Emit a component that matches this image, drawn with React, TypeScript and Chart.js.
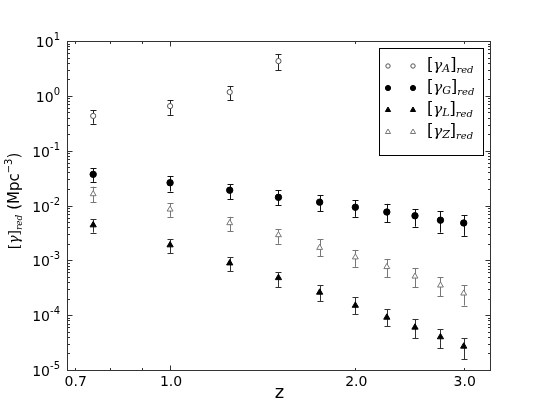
import React, { useEffect, useRef } from "react";
import { Chart, registerables } from "chart.js";

Chart.register(...registerables);

const zA = [0.75, 1.0, 1.25, 1.5];
const zAll = [0.75, 1.0, 1.25, 1.5, 1.75, 2.0, 2.25, 2.5, 2.75, 3.0];

const gammaA = [0.43, 0.65, 1.17, 4.3];
const gammaALo = [0.31, 0.45, 0.84, 2.95];
const gammaAHi = [0.55, 0.84, 1.5, 5.8];

const gammaG = [0.037, 0.026, 0.019, 0.0141, 0.0115, 0.0093, 0.0076, 0.0065, 0.0054, 0.0048];
const gammaGLo = [0.027, 0.018, 0.013, 0.0102, 0.0079, 0.0062, 0.005, 0.0041, 0.0032, 0.0028];
const gammaGHi = [0.048, 0.034, 0.0245, 0.019, 0.0155, 0.0125, 0.0107, 0.0085, 0.0079, 0.0067];

const gammaL = [0.0044, 0.0019, 0.00089, 0.00048, 0.00026, 0.00015, 0.000091, 0.00006, 0.00004, 0.000027];
const gammaLLo = [0.0032, 0.00135, 0.00063, 0.00032, 0.00018, 0.000105, 0.000063, 0.000038, 0.000025, 0.0000158];
const gammaLHi = [0.0056, 0.0024, 0.00114, 0.0006, 0.00035, 0.00021, 0.000129, 0.000085, 0.000055, 0.000038];

const gammaZ = [0.0162, 0.0085, 0.0048, 0.0029, 0.0017, 0.00114, 0.00076, 0.00051, 0.00035, 0.00025];
const gammaZLo = [0.0115, 0.0062, 0.0034, 0.002, 0.0012, 0.00076, 0.00049, 0.00032, 0.00022, 0.00015];
const gammaZHi = [0.022, 0.011, 0.0062, 0.0037, 0.0024, 0.00155, 0.00105, 0.00072, 0.00049, 0.00035];

const xTickValues = [0.7, 1.0, 2.0, 3.0];
const xTickLabels = ["0.7", "1.0", "2.0", "3.0"];
const xMinorTicks = [0.7, 0.8, 0.9, 2, 3];
const xMajorTicks = [1];
const yExponents = [1, 0, -1, -2, -3, -4, -5];
const legendSubs = ["A", "G", "L", "Z"];

const SANS = '"DejaVu Sans", sans-serif';
const SERIF = '"DejaVu Serif", "Liberation Serif", serif';

function drawMarker(ctx: CanvasRenderingContext2D, style: string, x: number, y: number, r: number, fill: string, stroke: string) {
  ctx.save();
  ctx.beginPath();
  if (style === "circle") {
    ctx.arc(x, y, r, 0, Math.PI * 2);
  } else {
    let rad = 0;
    ctx.moveTo(x + Math.sin(rad) * r, y - Math.cos(rad) * r);
    rad += (2 * Math.PI) / 3;
    ctx.lineTo(x + Math.sin(rad) * r, y - Math.cos(rad) * r);
    rad += (2 * Math.PI) / 3;
    ctx.lineTo(x + Math.sin(rad) * r, y - Math.cos(rad) * r);
    ctx.closePath();
  }
  ctx.fillStyle = fill;
  ctx.fill();
  ctx.lineWidth = 1;
  ctx.strokeStyle = stroke;
  ctx.stroke();
  ctx.restore();
}

const errorSets = [
  { xs: zA, lo: gammaALo, hi: gammaAHi, color: "#222" },
  { xs: zAll, lo: gammaGLo, hi: gammaGHi, color: "#111" },
  { xs: zAll, lo: gammaLLo, hi: gammaLHi, color: "#333" },
  { xs: zAll, lo: gammaZLo, hi: gammaZHi, color: "#777" },
];

const legendMarkers = [
  { style: "circle", r: 2.2, fill: "#fff", stroke: "#555" },
  { style: "circle", r: 2.6, fill: "#000", stroke: "#000" },
  { style: "triangle", r: 3.0, fill: "#000", stroke: "#000" },
  { style: "triangle", r: 3.0, fill: "#fff", stroke: "#777" },
];

const customPlugin = {
  id: "customDecor",
  beforeDatasetsDraw(chart: any) {
    const ctx = chart.ctx as CanvasRenderingContext2D;
    const xs = chart.scales.x;
    const ys = chart.scales.y;
    ctx.save();
    ctx.lineWidth = 1;
    errorSets.forEach((s) => {
      ctx.strokeStyle = s.color;
      s.xs.forEach((xv, i) => {
        const px = Math.round(xs.getPixelForValue(xv)) + 0.5;
        const y1 = ys.getPixelForValue(s.lo[i]);
        const y2 = ys.getPixelForValue(s.hi[i]);
        ctx.beginPath();
        ctx.moveTo(px, y1);
        ctx.lineTo(px, y2);
        ctx.moveTo(px - 3, Math.round(y1) + 0.5);
        ctx.lineTo(px + 3, Math.round(y1) + 0.5);
        ctx.moveTo(px - 3, Math.round(y2) + 0.5);
        ctx.lineTo(px + 3, Math.round(y2) + 0.5);
        ctx.stroke();
      });
    });
    ctx.restore();
  },
  afterDatasetsDraw(chart: any) {
    const ctx = chart.ctx as CanvasRenderingContext2D;
    const xs = chart.scales.x;
    const ys = chart.scales.y;
    const a = chart.chartArea;
    const L = Math.round(a.left) + 0.5;
    const R = Math.round(a.right) + 0.5;
    const T = Math.round(a.top) + 0.5;
    const B = Math.round(a.bottom) + 0.5;
    ctx.save();
    ctx.strokeStyle = "#333";
    ctx.lineWidth = 1;
    ctx.strokeRect(L, T, R - L, B - T);

    ctx.beginPath();
    for (let k = -5; k <= 1; k++) {
      const py = Math.round(ys.getPixelForValue(Math.pow(10, k))) + 0.5;
      ctx.moveTo(L, py);
      ctx.lineTo(L + 5, py);
      ctx.moveTo(R, py);
      ctx.lineTo(R - 5, py);
      if (k < 1) {
        for (let m = 2; m <= 9; m++) {
          const pm = Math.round(ys.getPixelForValue(m * Math.pow(10, k))) + 0.5;
          ctx.moveTo(L, pm);
          ctx.lineTo(L + 2.5, pm);
          ctx.moveTo(R, pm);
          ctx.lineTo(R - 2.5, pm);
        }
      }
    }
    xMajorTicks.forEach((v) => {
      const px = Math.round(xs.getPixelForValue(v)) + 0.5;
      ctx.moveTo(px, B);
      ctx.lineTo(px, B - 5);
      ctx.moveTo(px, T);
      ctx.lineTo(px, T + 5);
    });
    xMinorTicks.forEach((v) => {
      const px = Math.round(xs.getPixelForValue(v)) + 0.5;
      ctx.moveTo(px, B);
      ctx.lineTo(px, B - 2.5);
      ctx.moveTo(px, T);
      ctx.lineTo(px, T + 2.5);
    });
    ctx.stroke();

    ctx.fillStyle = "#000";
    ctx.textBaseline = "alphabetic";
    yExponents.forEach((k) => {
      const py = ys.getPixelForValue(Math.pow(10, k));
      const sup = k < 0 ? "-" + String(-k) : String(k);
      ctx.font = `10px ${SANS}`;
      const wSup = ctx.measureText(sup).width;
      const right = a.left - 7;
      ctx.textAlign = "left";
      ctx.fillText(sup, right - wSup, py - 1);
      ctx.font = `14px ${SANS}`;
      ctx.textAlign = "right";
      ctx.fillText("10", right - wSup, py + 6);
    });

    ctx.font = `14px ${SANS}`;
    ctx.textAlign = "center";
    xTickValues.forEach((v, i) => {
      const px = xs.getPixelForValue(v);
      ctx.fillText(xTickLabels[i], px + 1, a.bottom + 16);
    });

    ctx.font = `18px ${SANS}`;
    ctx.fillText("z", (a.left + a.right) / 2 + 1, a.bottom + 28);

    ctx.save();
    ctx.translate(14, 201);
    ctx.rotate(-Math.PI / 2);
    const parts: { t: string; font: string; dy: number }[] = [
      { t: "[", font: `14px ${SERIF}`, dy: 0 },
      { t: "γ", font: `italic 14px ${SERIF}`, dy: 0 },
      { t: "]", font: `14px ${SERIF}`, dy: 0 },
      { t: "red", font: `italic 9px ${SERIF}`, dy: 3 },
      { t: " (Mpc", font: `15px ${SANS}`, dy: 0 },
      { t: "−3", font: `10px ${SANS}`, dy: -7 },
      { t: ")", font: `15px ${SANS}`, dy: 0 },
    ];
    let total = 0;
    parts.forEach((p) => {
      ctx.font = p.font;
      total += ctx.measureText(p.t).width;
    });
    let cx = -total / 2;
    ctx.textAlign = "left";
    parts.forEach((p) => {
      ctx.font = p.font;
      ctx.fillText(p.t, cx, 5 + p.dy);
      cx += ctx.measureText(p.t).width;
    });
    ctx.restore();

    const lx = 379.5, ly = 48.5, lw = 104, lh = 107;
    ctx.fillStyle = "#fff";
    ctx.fillRect(lx, ly, lw, lh);
    ctx.strokeStyle = "#000";
    ctx.lineWidth = 1;
    ctx.strokeRect(lx, ly, lw, lh);
    legendSubs.forEach((sub, i) => {
      const ry = 66 + i * 22;
      const m = legendMarkers[i];
      drawMarker(ctx, m.style, 388, ry, m.r, m.fill, m.stroke);
      drawMarker(ctx, m.style, 413, ry, m.r, m.fill, m.stroke);
      const segs: { t: string; font: string; dy: number }[] = [
        { t: "[", font: `16px ${SERIF}`, dy: 0 },
        { t: "γ", font: `italic 15px ${SERIF}`, dy: 0 },
        { t: sub, font: `italic 11px ${SERIF}`, dy: 2 },
        { t: "]", font: `16px ${SERIF}`, dy: 0 },
        { t: "red", font: `italic 10px ${SERIF}`, dy: 3 },
      ];
      let tx = 427;
      ctx.fillStyle = "#000";
      ctx.textAlign = "left";
      segs.forEach((s) => {
        ctx.font = s.font;
        ctx.fillText(s.t, tx, ry + 4 + s.dy);
        tx += ctx.measureText(s.t).width;
      });
    });
    ctx.restore();
  },
};

function makePoints(xs: number[], ys: number[]) {
  return xs.map((x, i) => ({ x, y: ys[i] }));
}

export default function App() {
  const ref = useRef<HTMLCanvasElement | null>(null);
  useEffect(() => {
    if (!ref.current) return;
    const chart = new Chart(ref.current, {
      type: "scatter",
      data: {
        datasets: [
          {
            label: "[γA]red",
            data: makePoints(zA, gammaA),
            pointStyle: "circle",
            pointRadius: 2.6,
            backgroundColor: "#fff",
            borderColor: "#555",
            borderWidth: 1,
          },
          {
            label: "[γG]red",
            data: makePoints(zAll, gammaG),
            pointStyle: "circle",
            pointRadius: 3.2,
            backgroundColor: "#000",
            borderColor: "#000",
            borderWidth: 1,
          },
          {
            label: "[γL]red",
            data: makePoints(zAll, gammaL),
            pointStyle: "triangle",
            pointRadius: 3.6,
            backgroundColor: "#000",
            borderColor: "#000",
            borderWidth: 1,
          },
          {
            label: "[γZ]red",
            data: makePoints(zAll, gammaZ),
            pointStyle: "triangle",
            pointRadius: 3.4,
            backgroundColor: "#fff",
            borderColor: "#777",
            borderWidth: 1,
          },
        ],
      },
      options: {
        responsive: false,
        animation: false,
        layout: { padding: { left: 67, right: 55, top: 41, bottom: 43 } },
        plugins: { legend: { display: false }, tooltip: { enabled: false } },
        scales: {
          x: { type: "logarithmic", min: 0.68, max: 3.31, display: false },
          y: { type: "logarithmic", min: 1e-5, max: 10, display: false },
        },
      },
      plugins: [customPlugin],
    });
    return () => chart.destroy();
  }, []);
  return (
    <div style={{ position: "fixed", left: 0, top: 0, width: 545, height: 413, background: "#fff" }}>
      <canvas ref={ref} width={545} height={413} style={{ display: "block" }} />
    </div>
  );
}
